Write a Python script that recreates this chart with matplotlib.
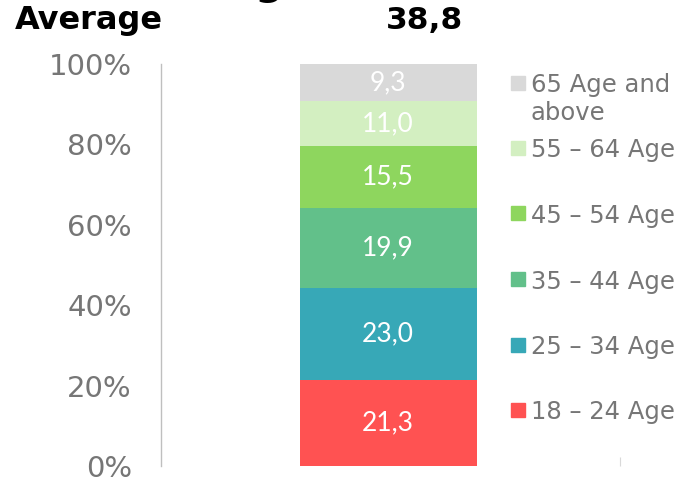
import numpy as np
import matplotlib
matplotlib.use("Agg")
import matplotlib.pyplot as plt
from matplotlib.patches import Rectangle
from matplotlib.ticker import FuncFormatter

# data (stacked share of respondents per age band, %)
age_groups = ["18 – 24 Age", "25 – 34 Age", "35 – 44 Age",
              "45 – 54 Age", "55 – 64 Age", "65 Age and\nabove"]
shares = [21.3, 23.0, 19.9, 15.5, 11.0, 9.3]
colors = ["#FF5252", "#37A8B7", "#62C08A", "#8ED65E", "#D3EFC1", "#D9D9D9"]
average_age = 38.8
yticks = [0, 20, 40, 60, 80, 100]

W, H = 682, 482
GREY = "#767676"


def px(x, y):
    # pixel (from top-left) -> figure fraction
    return x / W, 1 - y / H


fig = plt.figure(figsize=(W / 100, H / 100), dpi=100)
ax = fig.add_axes([161 / W, (H - 466) / H, (620 - 161) / W, (466 - 64) / H])

bottom = 0.0
for label, v, c in zip(age_groups, shares, colors):
    ax.bar(0, v, width=0.386, bottom=bottom, color=c, linewidth=0)
    ax.text(0, bottom + v / 2, f"{v:.1f}".replace(".", ","), ha="center",
            va="center", color="white", fontsize=19, family="Lato")
    bottom += v

ax.set_xlim(-0.495, 0.505)
ax.set_ylim(0, 100)
ax.set_yticks(yticks)
ax.yaxis.set_major_formatter(FuncFormatter(lambda v, _: f"{v:.0f}%"))
ax.tick_params(axis="y", length=0, pad=21, labelsize=21, labelcolor=GREY)
ax.set_xticks([0.505])
ax.tick_params(axis="x", direction="in", length=6.5, color="#D9D9D9",
               labelbottom=False)
for s in ["top", "right", "bottom"]:
    ax.spines[s].set_visible(False)
ax.spines["left"].set_color("#BFBFBF")
ax.spines["left"].set_linewidth(1)

# legend, top entry first; first line of each label sits level with its key
for i, (label, c) in enumerate(zip(age_groups[::-1], colors[::-1])):
    yc = 82.5 + i * 65.5
    x0, y0 = px(511, yc + 7)
    fig.patches.append(Rectangle((x0, y0), 14 / W, 14 / H, color=c,
                                 transform=fig.transFigure, figure=fig))
    fig.text(*px(531, yc - 9.5), label, ha="left", va="top", fontsize=17.5,
             color=GREY, linespacing=1.23)

# header row (cut off at the top in the reference)
fig.text(*px(268, -6), "Age", ha="center", va="baseline", fontsize=29,
         fontweight="bold")
fig.text(*px(15, 29), "Average", ha="left", va="baseline", fontsize=23,
         fontweight="bold")
fig.text(*px(424, 29), f"{average_age:.1f}".replace(".", ","), ha="center",
         va="baseline", fontsize=22.5, fontweight="bold")

fig.savefig("out.png", dpi=100)
